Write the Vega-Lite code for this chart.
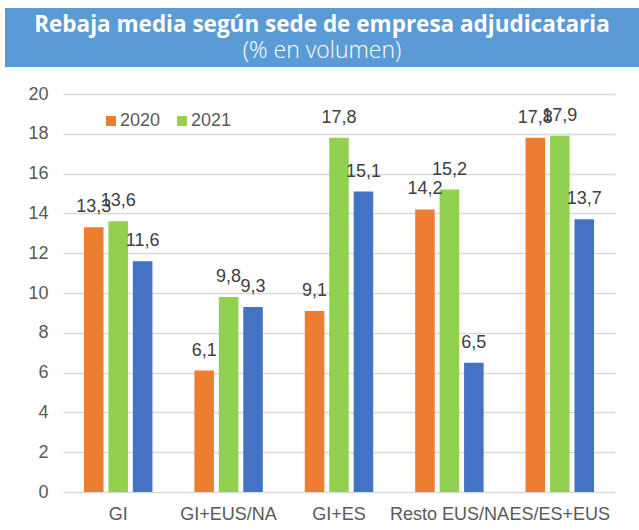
{
  "$schema": "https://vega.github.io/schema/vega-lite/v6.json",
  "padding": {"left": 5, "top": 8, "right": 0, "bottom": 0},
  "background": "white",
  "bounds": "full",
  "spacing": 18,
  "resolve": {"legend": {"color": "independent"}, "scale": {"y": "independent", "x": "independent"}},
  "config": {
    "view": {"stroke": null},
    "font": "Liberation Sans",
    "locale": {"number": {"decimal": ",", "thousands": ".", "grouping": [3], "currency": ["", " €"]}}
  },
  "vconcat": [
    {
      "width": 634,
      "height": 59,
      "view": {"fill": "#5B9BD5", "stroke": null},
      "layer": [
        {
          "data": {"values": [{"line": "title", "text": "Rebaja media según sede de empresa adjudicataria"}]},
          "mark": {"type": "text", "font": "Open Sans", "fontWeight": "bold", "fontSize": 22.5, "color": "white", "baseline": "alphabetic", "align": "center"},
          "encoding": {
            "y": {"field": "line", "type": "ordinal", "axis": null, "scale": {"type": "point", "domain": ["title", "subtitle"], "padding": 0.609, "align": 0.73}},
            "text": {"field": "text"}
          }
        },
        {
          "data": {"values": [{"line": "subtitle", "text": "(% en volumen)"}]},
          "mark": {"type": "text", "font": "Open Sans", "fontWeight": 300, "fontSize": 23, "color": "white", "baseline": "alphabetic", "align": "center"},
          "encoding": {
            "y": {"field": "line", "type": "ordinal", "axis": null, "scale": {"type": "point", "domain": ["title", "subtitle"], "padding": 0.609, "align": 0.73}},
            "text": {"field": "text"}
          }
        }
      ]
    },
    {
      "spacing": 0,
      "bounds": "full",
      "resolve": {"legend": {"color": "independent"}, "scale": {"y": "independent", "x": "independent"}},
      "hconcat": [
        {
          "width": 1,
          "height": 1,
          "data": {"values": [{"spacer": 0}]},
          "mark": {"type": "point", "size": 0, "opacity": 0},
          "encoding": {}
        },
        {
          "width": 552,
          "height": 398,
          "data": {
            "values": [
              {"cat": "GI", "serie": "2020", "value": 13.3},
              {"cat": "GI", "serie": "2021", "value": 13.6},
              {"cat": "GI", "serie": "2022", "value": 11.6},
              {"cat": "GI+EUS/NA", "serie": "2020", "value": 6.1},
              {"cat": "GI+EUS/NA", "serie": "2021", "value": 9.8},
              {"cat": "GI+EUS/NA", "serie": "2022", "value": 9.3},
              {"cat": "GI+ES", "serie": "2020", "value": 9.1},
              {"cat": "GI+ES", "serie": "2021", "value": 17.8},
              {"cat": "GI+ES", "serie": "2022", "value": 15.1},
              {"cat": "Resto EUS/NA", "serie": "2020", "value": 14.2},
              {"cat": "Resto EUS/NA", "serie": "2021", "value": 15.2},
              {"cat": "Resto EUS/NA", "serie": "2022", "value": 6.5},
              {"cat": "ES/ES+EUS", "serie": "2020", "value": 17.8},
              {"cat": "ES/ES+EUS", "serie": "2021", "value": 17.9},
              {"cat": "ES/ES+EUS", "serie": "2022", "value": 13.7}
            ]
          },
          "encoding": {
            "x": {
              "field": "cat", "type": "nominal", "sort": null,
              "scale": {"paddingInner": 0.38, "paddingOuter": 0.19},
              "axis": {"title": null, "labelAngle": 0, "domain": false, "ticks": false, "labelPadding": 13, "labelFontSize": 18, "labelColor": "#595959", "labelOverlap": false, "labelLimit": 0, "labelBound": false}
            },
            "xOffset": {"field": "serie", "type": "nominal", "sort": ["2020", "2021", "2022"], "scale": {"paddingInner": 0.2, "paddingOuter": 0}},
            "y": {
              "field": "value", "type": "quantitative",
              "scale": {"domain": [0, 20], "nice": false},
              "axis": {"title": null, "values": [0, 2, 4, 6, 8, 10, 12, 14, 16, 18, 20], "domain": false, "ticks": false, "labelPadding": 15, "labelFontSize": 18, "labelColor": "#595959", "gridColor": "#D9D9D9", "gridWidth": 1.5, "minExtent": 57, "format": "d"}
            }
          },
          "layer": [
            {
              "mark": {"type": "bar"},
              "encoding": {
                "color": {
                  "field": "serie", "type": "nominal",
                  "scale": {"domain": ["2020", "2021", "2022"], "range": ["#ED7D31", "#92D050", "#4472C4"]},
                  "legend": {"values": ["2020", "2021"], "title": null, "orient": "none", "legendX": 39, "legendY": 18, "direction": "horizontal", "symbolType": "square", "symbolSize": 100, "symbolStrokeWidth": 0, "labelFontSize": 18, "labelColor": "#595959", "labelOffset": 0, "columnPadding": 12, "padding": 0}
                }
              }
            },
            {
              "mark": {"type": "text", "align": "center", "baseline": "alphabetic", "dy": -15, "fontSize": 18, "color": "#404040"},
              "encoding": {
                "text": {"field": "value", "type": "quantitative", "format": ".1f"}
              }
            }
          ]
        }
      ]
    }
  ]
}
